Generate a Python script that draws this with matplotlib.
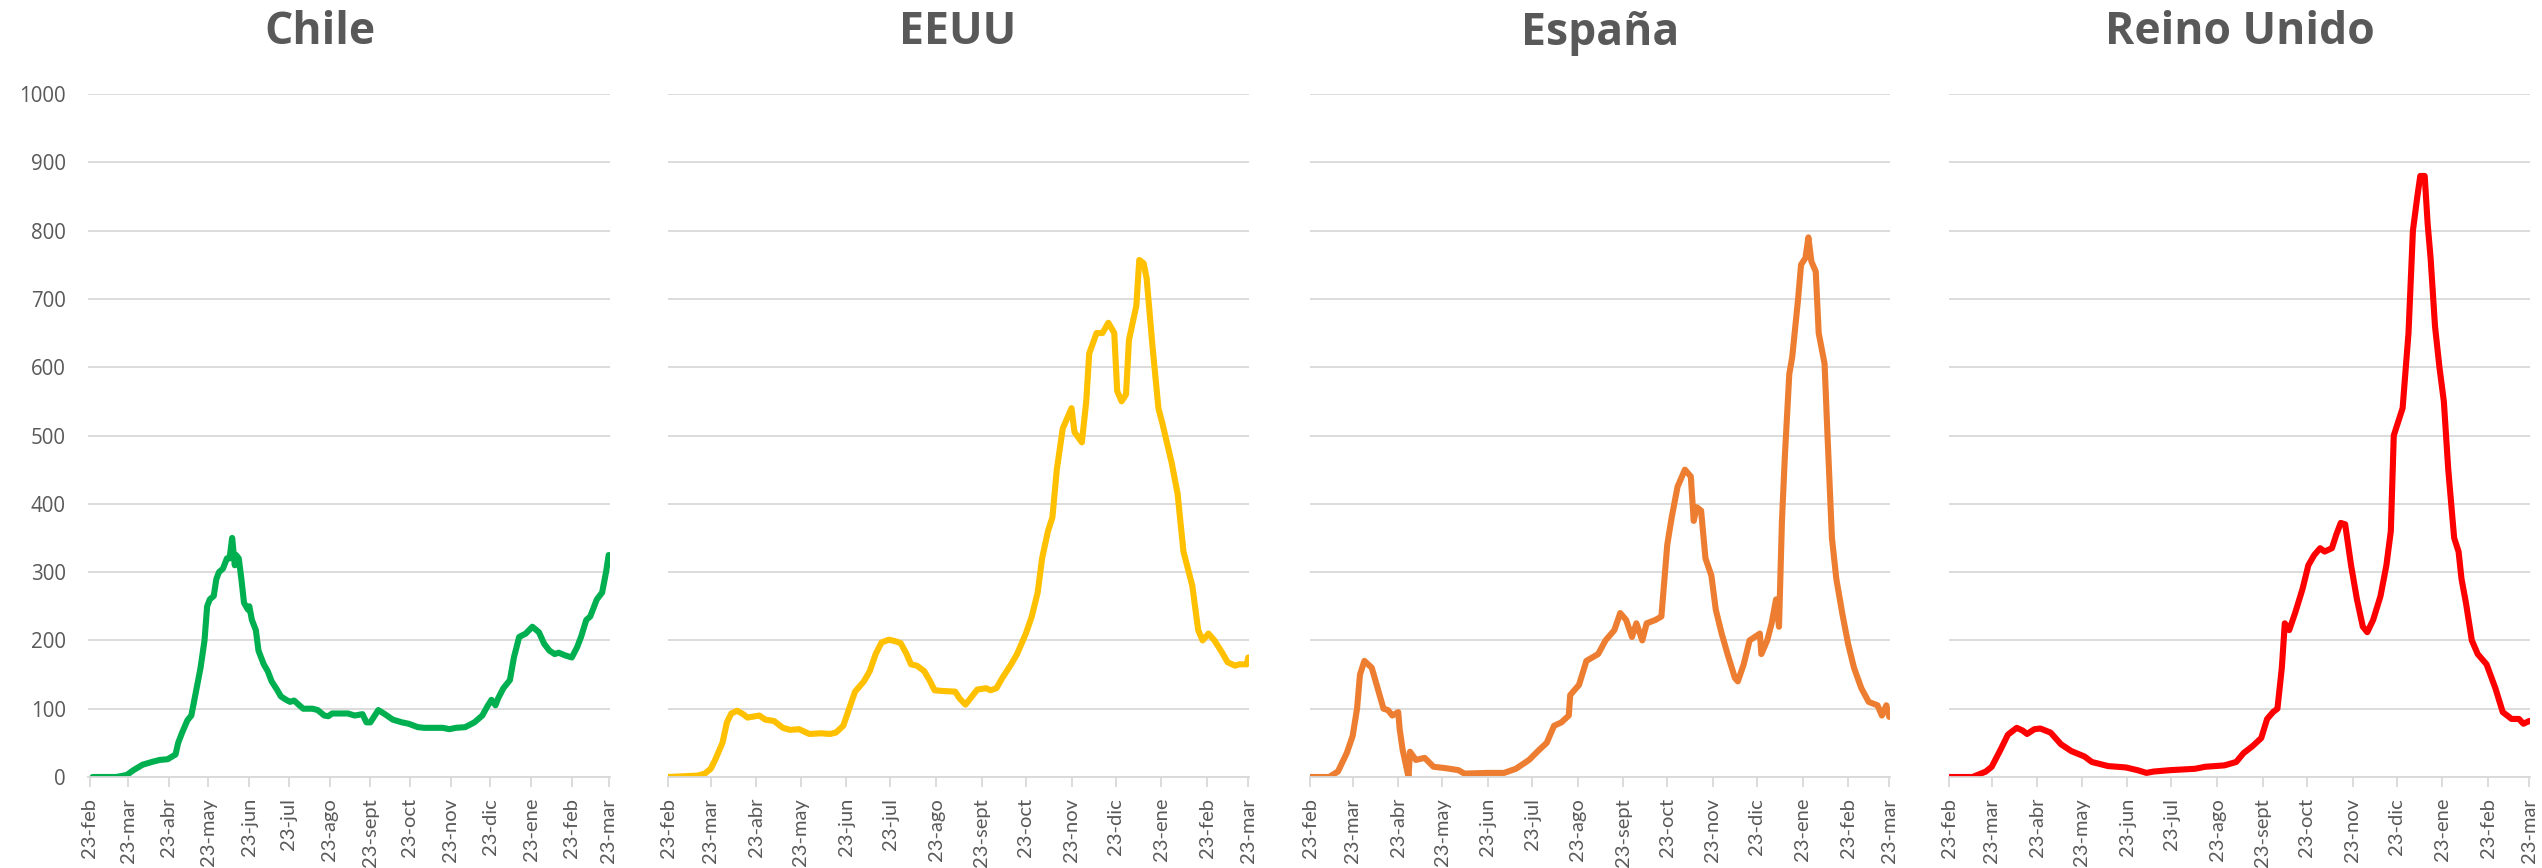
import pandas as pd
import matplotlib
matplotlib.use("Agg")
import matplotlib.pyplot as plt

start = pd.Timestamp("2020-02-23")

# days since 23-feb-2020 and values
chile_days = [2, 20, 28, 33, 40, 47, 53, 59, 65, 67, 70, 74, 77, 81, 84, 87, 89, 91, 94, 96,
              98, 101, 104, 106, 108, 110, 111, 113, 115, 117, 120, 121, 123, 126, 128, 132,
              135, 138, 142, 145, 149, 152, 155, 159, 162, 169, 173, 178, 181, 184, 190, 196,
              201, 207, 210, 213, 219, 224, 230, 237, 242, 249, 254, 261, 268, 273, 278, 285,
              292, 298, 302, 305, 308, 310, 314, 319, 322, 326, 331, 336, 341, 345, 349, 353,
              356, 361, 366, 370, 373, 377, 380, 385, 389, 392, 394]
chile_vals = [0, 0, 3, 10, 18, 22, 25, 26, 33, 50, 65, 83, 90, 130, 160, 200, 250, 260, 265, 290,
              300, 305, 320, 320, 350, 310, 325, 320, 290, 255, 245, 250, 230, 215, 185, 165,
              155, 140, 128, 118, 113, 110, 112, 105, 100, 100, 98, 90, 89, 93, 93, 93,
              90, 92, 80, 80, 98, 92, 84, 80, 78, 73, 72, 72, 72, 70, 72, 73,
              80, 90, 104, 113, 105, 115, 130, 142, 175, 205, 210, 220, 212, 195, 185, 180,
              182, 178, 175, 190, 205, 230, 235, 260, 270, 300, 325]

eeuu_days = [0, 20, 25, 29, 32, 37, 40, 43, 47, 51, 54, 62, 66, 72, 78, 83, 89, 96, 104, 110,
             114, 119, 123, 127, 133, 137, 141, 145, 150, 154, 158, 162, 165, 169, 174, 178,
             181, 186, 195, 198, 202, 206, 210, 216, 219, 223, 227, 233, 237, 243, 247, 251,
             254, 258, 261, 264, 268, 274, 276, 281, 284, 286, 291, 295, 299, 303, 305, 308,
             311, 313, 318, 320, 323, 325, 329, 333, 336, 342, 346, 350, 356, 360, 363, 367,
             371, 376, 380, 385, 388, 393, 394]
eeuu_vals = [0, 2, 5, 12, 25, 50, 80, 93, 97, 92, 87, 90, 84, 82, 72, 69, 70, 63, 64, 63,
             65, 75, 100, 125, 140, 155, 180, 197, 201, 199, 196, 180, 165, 163, 155, 140,
             127, 126, 125, 115, 106, 117, 128, 130, 127, 130, 145, 165, 180, 210, 235, 270,
             320, 360, 380, 450, 510, 540, 505, 490, 550, 620, 650, 650, 665, 650, 565, 550,
             560, 640, 690, 757, 752, 730, 630, 540, 515, 460, 415, 330, 280, 215, 200, 210,
             200, 183, 168, 163, 165, 165, 175]

espana_days = [0, 13, 19, 25, 29, 32, 34, 37, 42, 46, 50, 53, 56, 60, 61, 63, 65, 67, 68, 72,
               78, 84, 92, 101, 105, 121, 132, 140, 149, 156, 161, 166, 171, 176, 177, 183,
               188, 196, 201, 207, 211, 215, 219, 222, 226, 229, 235, 239, 243, 246, 250, 255,
               259, 261, 263, 266, 269, 273, 276, 280, 284, 289, 291, 295, 299, 306, 307, 311,
               314, 317, 319, 321, 323, 326, 328, 332, 334, 337, 339, 341, 344, 346, 350, 352,
               355, 358, 362, 366, 370, 375, 380, 386, 389, 392, 394]
espana_vals = [0, 0, 8, 35, 60, 100, 150, 170, 160, 130, 100, 98, 90, 95, 70, 40, 20, 0, 37, 25,
               28, 15, 13, 10, 5, 6, 6, 12, 25, 40, 50, 75, 80, 90, 120, 135,
               170, 180, 200, 215, 240, 230, 205, 225, 200, 225, 230, 235, 340, 380, 425, 450,
               440, 375, 395, 390, 320, 295, 245, 210, 180, 145, 140, 165, 200, 210, 180, 200,
               225, 260, 220, 375, 470, 590, 615, 700, 750, 760, 790, 755, 740, 650, 605, 500,
               350, 290, 240, 195, 160, 130, 110, 105, 90, 105, 88]

ru_days = [0, 16, 25, 29, 35, 40, 46, 50, 53, 58, 62, 69, 76, 83, 92, 97, 108, 120, 128, 134,
           139, 150, 167, 174, 187, 195, 200, 206, 212, 216, 220, 223, 226, 228, 231, 235, 240,
           244, 248, 252, 255, 260, 263, 266, 269, 273, 277, 281, 284, 288, 293, 297, 300, 302,
           305, 308, 312, 315, 318, 320, 323, 325, 327, 330, 333, 336, 339, 343, 346, 348, 351,
           355, 359, 365, 371, 376, 382, 387, 390, 394]
ru_vals = [0, 0, 8, 15, 40, 62, 72, 68, 63, 70, 71, 65, 48, 38, 30, 22, 16, 14, 10, 6,
           8, 10, 12, 15, 17, 22, 35, 45, 57, 85, 95, 100, 160, 225, 215, 240, 275,
           310, 325, 335, 330, 335, 355, 372, 370, 310, 260, 220, 212, 230, 265, 310, 360, 500,
           520, 540, 650, 800, 850, 880, 880, 810, 760, 660, 600, 550, 450, 350, 330, 290, 255,
           200, 180, 165, 130, 95, 85, 85, 78, 82]

countries = ["Chile", "EEUU", "España", "Reino Unido"]
colors = ["#00B050", "#FFC000", "#ED7D31", "#FF0000"]
series = [(chile_days, chile_vals), (eeuu_days, eeuu_vals),
          (espana_days, espana_vals), (ru_days, ru_vals)]

month_ticks = pd.date_range("2020-02-23", "2021-03-23", freq="MS") + pd.Timedelta(days=22)
month_ticks = [start] + [d for d in month_ticks if d > start]
month_names = ["feb", "mar", "abr", "may", "jun", "jul", "ago", "sept", "oct", "nov",
               "dic", "ene", "feb", "mar"]
tick_labels = ["23-" + m for m in month_names]

W, H = 2542, 868
fig = plt.figure(figsize=(W / 100, H / 100), dpi=100)

# axes boxes in pixels (left, right); title centre x for each panel
boxes = [(88, 610), (668, 1249), (1310, 1890), (1949, 2530)]
title_x = [320, 958, 1600, 2240]
top, bottom = 94, 777
grey = "#595959"
grid = "#D9D9D9"

for i, (name, col, (d, v)) in enumerate(zip(countries, colors, series)):
    l, r = boxes[i]
    ax = fig.add_axes([l / W, 1 - bottom / H, (r - l) / W, (bottom - top) / H])
    dates = start + pd.to_timedelta(d, unit="D")
    ax.plot(dates, v, color=col, lw=4.4, solid_joinstyle="round", solid_capstyle="round")
    ax.set_ylim(0, 1000)
    if i == 0:
        ax.set_xlim(start - pd.Timedelta(days=1.5), month_ticks[-1] + pd.Timedelta(days=1))
    else:
        ax.set_xlim(start, month_ticks[-1] + pd.Timedelta(days=0.5))
    ax.set_yticks(range(0, 1001, 100))
    ax.yaxis.grid(True, color=grid, lw=1.3)
    ax.set_axisbelow(True)
    for s in ["top", "right", "left"]:
        ax.spines[s].set_visible(False)
    ax.spines["bottom"].set_color(grid)
    ax.spines["bottom"].set_linewidth(1.3)
    ax.set_xticks(month_ticks)
    ax.set_xticklabels(tick_labels, rotation=90, fontsize=14.5, color=grey, family="Lato")
    ax.tick_params(axis="x", length=7, width=1.3, color=grid, pad=8)
    ax.tick_params(axis="y", length=0, pad=16)
    if i == 0:
        for t in ax.get_yticklabels():
            t.set_fontfamily("Open Sans")
            t.set_fontsize(14.8)
            t.set_color(grey)
    else:
        ax.set_yticklabels([])
    fig.text(title_x[i] / W, 1 - 33 / H, name, ha="center", va="center",
             fontsize=32, fontweight="bold", color=grey, family="Open Sans")

fig.savefig("out.png", dpi=100)
